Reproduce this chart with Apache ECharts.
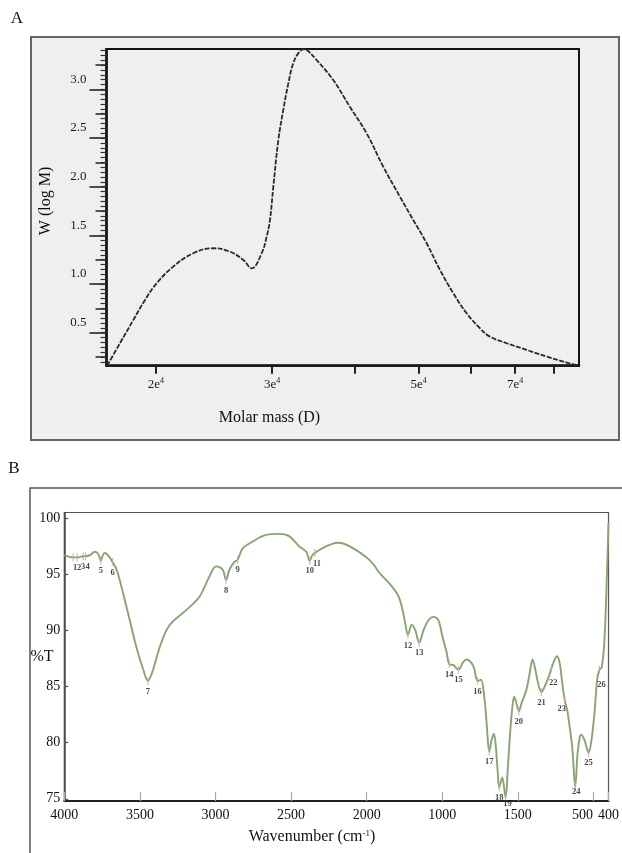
<!DOCTYPE html>
<html>
<head>
<meta charset="utf-8">
<script src="https://cdn.jsdelivr.net/npm/echarts@6/dist/echarts.min.js"></script>
<style>
html,body{margin:0;padding:0;background:#fff;}
#chart{width:622px;height:853px;}
</style>
</head>
<body>
<div id="chart"></div>
<script>
// ---------- Panel A : molar mass distribution ----------
const molarMass = [16870, 17640, 18480, 19250, 20050, 21240, 22780, 24430, 25890, 27130, 27930,
  28920, 29430, 29770, 30120, 30650, 31180, 31740, 32280, 32860, 33440, 33830, 35040, 37120,
  39340, 41710, 44200, 46850, 49070, 51430, 53870, 56430, 59130, 61930, 64130, 67980, 72910,
  78170, 83810, 87250];
const wLogM = [0.161, 0.391, 0.630, 0.836, 1.007, 1.178, 1.316, 1.367, 1.332, 1.247, 1.161,
  1.316, 1.486, 1.658, 2.000, 2.479, 2.787, 3.062, 3.267, 3.370, 3.411, 3.404, 3.301, 3.096,
  2.821, 2.548, 2.205, 1.897, 1.658, 1.418, 1.144, 0.905, 0.699, 0.545, 0.459, 0.391, 0.322,
  0.254, 0.192, 0.161];
const molarTicks = [20000, 30000, 40000, 50000, 60000, 70000, 80000];
const molarTickLabels = ['2e{s|4}', '3e{s|4}', '', '5e{s|4}', '', '7e{s|4}', ''];
const wTicks = [0.5, 1.0, 1.5, 2.0, 2.5, 3.0];
const wTickLabels = ['0.5', '1.0', '1.5', '2.0', '2.5', '3.0'];

// ---------- Panel B : FTIR spectrum ----------
const wavenumber = [4000, 3941, 3915, 3875, 3859, 3830, 3798, 3775, 3758, 3745, 3732, 3705, 3681,
  3660, 3644, 3611, 3567, 3523, 3480, 3447, 3420, 3369, 3325, 3282, 3194, 3106, 3040, 2996, 2952,
  2930, 2908, 2875, 2853, 2820, 2755, 2667, 2579, 2513, 2447, 2399, 2377, 2359, 2342, 2294, 2228,
  2184, 2100, 2000, 1950, 1920, 1832, 1788, 1762, 1744, 1727, 1701, 1678, 1652, 1624, 1591, 1558,
  1525, 1498, 1470, 1454, 1426, 1393, 1360, 1338, 1294, 1266, 1244, 1222, 1206, 1189, 1174, 1158,
  1145, 1134, 1123, 1103, 1081, 1065, 1050, 1035, 1024, 1009, 993, 976, 943, 921, 903, 884, 866,
  844, 822, 795, 778, 756, 741, 723, 706, 690, 673, 657, 640, 620, 605, 590, 580, 558, 532, 515,
  493, 475, 460, 445, 427, 410, 400];
const transmittance = [96.7, 96.5, 96.5, 96.6, 96.6, 96.7, 97.0, 96.8, 96.2, 96.7, 96.9, 96.6, 96.1,
  95.6, 95.0, 93.3, 90.9, 88.5, 86.6, 85.5, 86.2, 88.5, 90.0, 90.8, 91.8, 93.0, 94.8, 95.7, 95.4,
  94.5, 95.4, 96.1, 96.3, 97.3, 97.9, 98.5, 98.6, 98.4, 97.5, 97.0, 96.2, 96.7, 96.9, 97.3, 97.7,
  97.8, 97.4, 96.5, 95.8, 95.2, 93.9, 93.0, 91.8, 90.6, 89.6, 90.5, 90.0, 88.9, 90.0, 90.9, 91.2,
  90.9, 89.4, 88.0, 87.0, 86.9, 86.5, 87.2, 87.4, 86.8, 85.5, 85.6, 84.1, 81.7, 79.2, 80.2, 80.8,
  79.6, 77.6, 76.0, 76.9, 75.1, 78.0, 81.0, 83.3, 84.1, 83.5, 82.8, 83.5, 84.7, 86.2, 87.4, 86.5, 85.3,
  84.5, 85.0, 85.9, 86.6, 87.4, 87.7, 87.1, 85.3, 83.8, 82.9, 81.4, 79.6, 76.1, 79.0, 80.5, 80.7, 80.2, 79.1, 80.0,
  82.6, 85.6, 86.5, 86.7, 89.1, 95.1, 99.6];
const peakNumbers = [1, 2, 3, 4, 5, 6, 7, 8, 9, 10, 11, 12, 13, 14, 15, 16, 17, 18, 19, 20, 21, 22, 23, 24, 25, 26];
const peakWavenumber = [3941, 3915, 3875, 3859, 3758, 3681, 3447, 2930, 2853, 2377, 2342, 1727, 1652,
  1454, 1393, 1266, 1189, 1123, 1081, 993, 844, 778, 690, 620, 532, 460];
const peakTransmittance = [96.5, 96.5, 96.6, 96.6, 96.2, 96.1, 85.5, 94.5, 96.3, 96.2, 96.9, 89.6, 88.9,
  87.0, 86.5, 85.5, 79.2, 76.0, 75.1, 82.8, 84.5, 86.6, 83.8, 76.1, 79.1, 86.5];
const wnTicks = [4000, 3500, 3000, 2500, 2000, 1500, 1000, 500, 400];
const wnTickLabels = ['4000', '3500', '3000', '2500', '2000', '1000', '1500', '500', '400'];
const tTicks = [75, 80, 85, 90, 95, 100];

// ---------- build ----------
const serif = '"Liberation Serif", "DejaVu Serif", serif';
const log10 = Math.log10;
const seriesA = molarMass.map((m, i) => [log10(m), wLogM[i]]);
const seriesB = wavenumber.map((w, i) => [w, transmittance[i]]);

// label placement tweaks (style only)
const peakLabelShift = {1: [2, 0], 2: [2, 0], 3: [0, 0], 4: [2, 0], 11: [2, 0], 19: [2, -4], 22: [2, 4], 23: [-3, -2], 24: [1, -5], 26: [2, 5]};
const peakData = peakNumbers.map((n, i) => ({
  value: [peakWavenumber[i], peakTransmittance[i]],
  name: String(n),
  label: { offset: peakLabelShift[n] || [0, 0] }
}));

function quarterTicks() {
  const out = [];
  for (let k = 1; k <= 13; k += 2) out.push(k * 0.25);
  return out;
}
function minorTicks() {
  const out = [];
  for (let k = 4; k <= 68; k++) out.push(+(k * 0.05).toFixed(2));
  return out;
}

const yA = { min: 0.16, max: 3.415 };
const chart = echarts.init(document.getElementById('chart'), null, { renderer: 'canvas' });

const option = {
  animation: false,
  backgroundColor: '#ffffff',
  grid: [
    { left: 106.5, top: 49, width: 472.5, height: 316.7, show: true, borderColor: '#151515', borderWidth: 2, backgroundColor: 'transparent' },
    { left: 64.3, top: 512.5, width: 546.4, height: 288.5, show: true, borderColor: '#555', borderWidth: 1.2, backgroundColor: 'transparent' }
  ],
  xAxis: [
    {
      gridIndex: 0, type: 'value', min: log10(16830), max: log10(87500),
      axisLine: { show: true, lineStyle: { color: '#151515', width: 2.5 } },
      axisTick: { show: true, customValues: molarTicks.map(log10), length: 8, lineStyle: { color: '#222', width: 2 } },
      axisLabel: {
        customValues: molarTicks.map(log10), margin: 11, color: '#1a1a1a', fontFamily: serif, fontSize: 13,
        formatter: v => {
          const i = molarTicks.findIndex(t => Math.abs(log10(t) - v) < 1e-6);
          return i >= 0 ? molarTickLabels[i] : '';
        },
        rich: { s: { fontSize: 8, fontFamily: serif, color: '#1a1a1a', lineHeight: 8, verticalAlign: 'top' } },
        lineHeight: 16
      },
      splitLine: { show: false }
    },
    {
      gridIndex: 1, type: 'value', min: 400, max: 4000, inverse: true,
      axisLine: { show: true, lineStyle: { color: '#222', width: 2 } },
      axisTick: { show: true, inside: true, customValues: wnTicks, length: 9, lineStyle: { color: '#aaa', width: 1.2 } },
      axisLabel: {
        customValues: wnTicks, margin: 7, color: '#111', fontFamily: serif, fontSize: 14,
        formatter: v => {
          const i = wnTicks.indexOf(v);
          if (i < 0) return '';
          return v === 500 ? '{sh|' + wnTickLabels[i] + '}' : wnTickLabels[i];
        },
        rich: { sh: { fontSize: 14, fontFamily: serif, color: '#111', padding: [0, 22, 0, 0] } }
      },
      splitLine: { show: false }
    }
  ],
  yAxis: [
    {
      gridIndex: 0, type: 'value', position: 'left', min: yA.min, max: yA.max,
      axisLine: { show: true, lineStyle: { color: '#111', width: 2.5 } },
      axisTick: { show: true, customValues: wTicks, length: 17, lineStyle: { color: '#222', width: 1.6 } },
      axisLabel: {
        customValues: wTicks, margin: 20, color: '#1a1a1a', fontFamily: serif, fontSize: 13,
        verticalAlign: 'bottom', lineHeight: 20,
        formatter: v => { const i = wTicks.findIndex(t => Math.abs(t - v) < 1e-6); return i >= 0 ? wTickLabels[i] : ''; }
      },
      splitLine: { show: false }
    },
    {
      gridIndex: 0, type: 'value', position: 'left', offset: 0, min: yA.min, max: yA.max,
      axisLine: { show: false },
      axisTick: { show: true, customValues: quarterTicks(), length: 11, lineStyle: { color: '#222', width: 1.5 } },
      axisLabel: { show: false }, splitLine: { show: false }
    },
    {
      gridIndex: 0, type: 'value', position: 'left', offset: 0, min: yA.min, max: yA.max,
      axisLine: { show: false },
      axisTick: { show: true, customValues: minorTicks(), length: 6, lineStyle: { color: '#333', width: 1.2 } },
      axisLabel: { show: false }, splitLine: { show: false }
    },
    {
      gridIndex: 1, type: 'value', position: 'left', min: 74.8, max: 100.5,
      axisLine: { show: true, lineStyle: { color: '#444', width: 1.5 } },
      axisTick: { show: true, inside: true, customValues: tTicks, length: 4, lineStyle: { color: '#555', width: 1.2 } },
      axisLabel: { customValues: tTicks, margin: 4, color: '#111', fontFamily: serif, fontSize: 14 },
      splitLine: { show: false }
    }
  ],
  series: [
    {
      type: 'line', xAxisIndex: 0, yAxisIndex: 0, data: seriesA, smooth: 0.4, showSymbol: false,
      lineStyle: { color: '#2a2a2a', width: 1.8, type: [5, 1.5] }, z: 3
    },
    {
      type: 'line', xAxisIndex: 1, yAxisIndex: 3, data: seriesB, smooth: 0.35, showSymbol: false,
      lineStyle: { color: '#87a472', width: 1.9 }, z: 3
    },
    {
      type: 'scatter', xAxisIndex: 1, yAxisIndex: 3, data: peakData,
      symbol: 'rect', symbolSize: [1.2, 8], itemStyle: { color: '#d8a0a0' },
      label: {
        show: true, position: 'bottom', distance: 2, formatter: p => p.name,
        fontFamily: serif, fontSize: 8.5, fontWeight: 'bold', color: '#151515'
      },
      z: 4
    }
  ],
  graphic: [
    { type: 'rect', z: -10, shape: { x: 31, y: 37, width: 588, height: 403 }, style: { fill: '#efefef', stroke: '#666', lineWidth: 2 } },
    { type: 'rect', z: -10, shape: { x: 30, y: 488, width: 700, height: 500 }, style: { fill: 'transparent', stroke: '#555', lineWidth: 1.5 } },
    { type: 'text', z: 10, x: 17, y: 19, style: { text: 'A', font: '17px ' + serif, fill: '#111', textAlign: 'center', textVerticalAlign: 'middle' } },
    { type: 'text', z: 10, x: 14, y: 469, style: { text: 'B', font: '17px ' + serif, fill: '#111', textAlign: 'center', textVerticalAlign: 'middle' } },
    { type: 'text', z: 10, x: 46, y: 201, rotation: Math.PI / 2, style: { text: 'W (log M)', font: '16px ' + serif, fill: '#111', textAlign: 'center', textVerticalAlign: 'middle' } },
    { type: 'text', z: 10, x: 269.5, y: 418, style: { text: 'Molar mass (D)', font: '16px ' + serif, fill: '#111', textAlign: 'center', textVerticalAlign: 'middle' } },
    { type: 'text', z: 10, x: 42, y: 657, style: { text: '%T', font: '16px ' + serif, fill: '#111', textAlign: 'center', textVerticalAlign: 'middle' } },
    { type: 'text', z: 10, x: 312, y: 837, style: {
        text: 'Wavenumber (cm{s|-1})', font: '16px ' + serif, fill: '#111', textAlign: 'center', textVerticalAlign: 'middle',
        rich: { s: { fontSize: 9, fontFamily: serif, fill: '#111', lineHeight: 9, verticalAlign: 'top' } }
      } }
  ]
};
chart.setOption(option);
</script>
</body>
</html>
